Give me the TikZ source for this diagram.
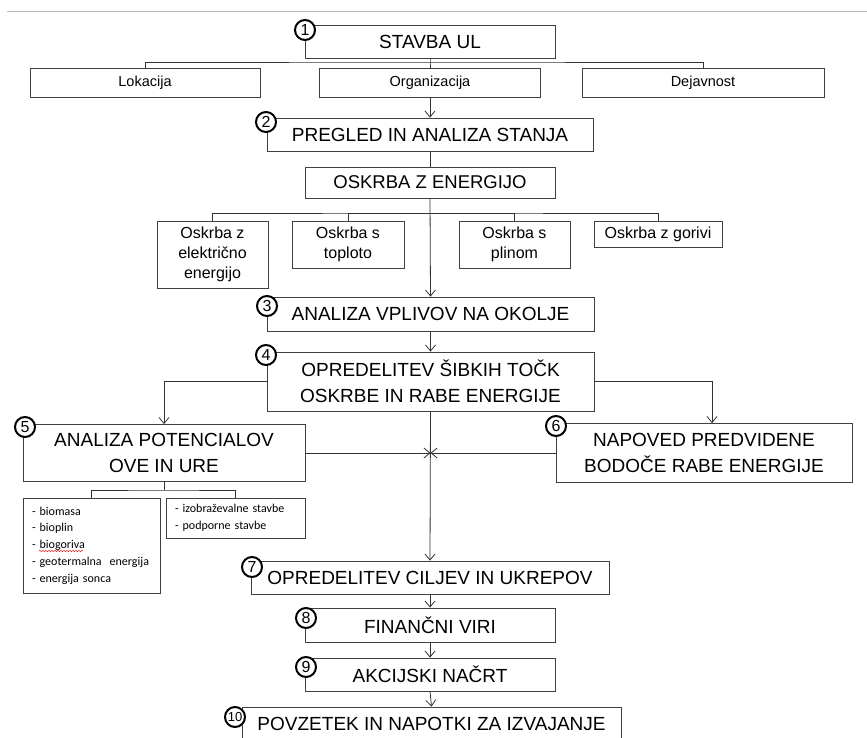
\documentclass[tikz,border=0pt]{standalone}
\usepackage{fontspec}
\setmainfont{Liberation Sans}
\newfontfamily\calibri{Carlito}
\usetikzlibrary{arrows.meta,decorations.pathmorphing}
\definecolor{rulegray}{HTML}{B5B9C1}

\begin{document}
\begin{tikzpicture}[x=1pt,y=-1pt,
    box/.style={draw=black!75,line width=0.8pt,fill=white,inner sep=0pt,align=center},
    title/.style={box,font=\fontsize{19}{26}\selectfont},
    small/.style={box,font=\fontsize{14.5}{20}\selectfont},
    sub/.style={box,font=\fontsize{16}{20}\selectfont},
    list/.style={draw=black!75,line width=0.8pt,align=left,inner xsep=9pt,inner ysep=0pt,
        font=\calibri\fontsize{12}{16.7}\selectfont},
    num/.style={circle,draw=black,line width=2pt,fill=white,inner sep=0pt,
        minimum size=20pt,font=\fontsize{16}{16}\selectfont},
    link/.style={draw=black!80,line width=0.8pt},
    arr/.style={link,-{Straight Barb[length=6pt,width=10pt]}}
    ]
    \useasboundingbox (0,0) rectangle (867,738);
    \clip (0,0) rectangle (867,738);
    \draw[rulegray,line width=1pt] (7,12) -- (867,12);

    % building
    \node[title,minimum width=250pt,minimum height=33pt] (stavba) at (430,41.5) {STAVBA UL};
    \node[small,minimum width=230pt,minimum height=29pt] (lok) at (145,82.5) {Lokacija};
    \node[small,minimum width=221pt,minimum height=29pt] (org) at (430,82.5) {Organizacija};
    \node[small,minimum width=242pt,minimum height=29pt] (dej) at (703,82.5) {Dejavnost};

    % state review
    \node[title,minimum width=326pt,minimum height=33pt] (pregled) at (430,134.5) {PREGLED IN ANALIZA STANJA};
    \node[box,font=\fontsize{18.5}{20}\selectfont,minimum width=250pt,minimum height=31pt] (oskrba) at (430,182.5) {OSKRBA Z ENERGIJO};
    \node[sub,minimum width=111pt,minimum height=67pt] (elek) at (212.5,254.5) {Oskrba z\\elektri\v{c}no\\energijo};
    \node[sub,minimum width=112pt,minimum height=47pt] (topl) at (348,244.5) {Oskrba s\\toploto};
    \node[sub,minimum width=111pt,minimum height=47pt] (plin) at (514.5,244.5) {Oskrba s\\plinom};
    \node[sub,minimum width=128pt,minimum height=26pt] (gor) at (658,234) {Oskrba z gorivi};

    % analysis
    \node[title,minimum width=327pt,minimum height=34pt] (vplivi) at (430.5,314) {ANALIZA VPLIVOV NA OKOLJE};
    \node[title,minimum width=327pt,minimum height=59pt] (sibke) at (430.5,381.5) {OPREDELITEV \v{S}IBKIH TO\v{C}K\\OSKRBE IN RABE ENERGIJE};
    \node[title,minimum width=282pt,minimum height=57pt] (potenc) at (164,453) {ANALIZA POTENCIALOV\\OVE IN URE};
    \node[title,minimum width=296pt,minimum height=59pt] (napoved) at (704,453) {NAPOVED PREDVIDENE\\BODO\v{C}E RABE ENERGIJE};
    \node[list,text width=119pt,minimum height=95pt] (lista) at (91.5,545.5)
        {- biomasa\\- bioplin\\- biogoriva\\- geotermalna\ \ energija\\- energija sonca};
    \node[list,text width=121pt,minimum height=40pt] (listb) at (235.5,518)
        {- izobra\v{z}evalne stavbe\\- podporne stavbe};
    \draw[red,decorate,decoration={snake,amplitude=0.8pt,segment length=3pt}] (39,551) -- (83,551);

    % goals and plan
    \node[title,minimum width=358pt,minimum height=33pt] (cilji) at (430,577.5) {OPREDELITEV CILJEV IN UKREPOV};
    \node[title,minimum width=250pt,minimum height=34pt] (viri) at (430,625) {FINAN\v{C}NI VIRI};
    \node[title,minimum width=250pt,minimum height=33pt] (nacrt) at (430,674.5) {AKCIJSKI NA\v{C}RT};
    \node[title,minimum width=379pt,minimum height=34pt] (povz) at (431.5,724) {POVZETEK IN NAPOTKI ZA IZVAJANJE};

    % connectors
    \coordinate (bus1) at (430,62);
    \draw[link] (stavba.south) -- (bus1) -- (org.north);
    \draw[link] (lok.north) |- (bus1) -| (dej.north);
    \draw[arr] (org.south) -- (pregled.north);
    \draw[link] (pregled.south) -- (oskrba.north);
    \draw[arr] (oskrba.south) -- (vplivi.north);
    \coordinate (bus2) at (430,213);
    \draw[link] (elek.north) |- (bus2) -| (gor.north);
    \draw[link] (topl.north) |- (bus2);
    \draw[link] (plin.north) |- (bus2);
    \draw[arr] (vplivi.south) -- (sibke.north);
    \draw[arr] (sibke.west) -| (potenc.north);
    \draw[arr] (sibke.east) -| ([xshift=8pt]napoved.north);
    \draw[arr] (sibke.south) -- (cilji.north);
    \coordinate (cross) at (sibke.south |- potenc.east);
    \draw[arr] (potenc.east) -- (cross);
    \draw[arr] (napoved.west) -- (cross);
    \coordinate (bus3) at (164,490);
    \draw[link] (potenc.south) -- (bus3);
    \draw[link] (lista.north) |- (bus3) -| (listb.north);
    \draw[arr] (cilji.south) -- (viri.north);
    \draw[arr] (viri.south) -- (nacrt.north);
    \draw[arr] (nacrt.south) -- (povz.north);

    % step numbers
    \node[num] (c1) at (305,30) {1};
    \node[num] (c2) at (266,122) {2};
    \node[num] (c3) at (267,306) {3};
    \node[num] (c4) at (266,355) {4};
    \node[num] (c5) at (25,427) {5};
    \node[num] (c6) at (556,426) {6};
    \node[num] (c7) at (252,567) {7};
    \node[num] (c8) at (306,618) {8};
    \node[num] (c9) at (306,667) {9};
    \node[num,font=\fontsize{13}{13}\selectfont] (c10) at (235,717) {10};
\end{tikzpicture}
\end{document}
